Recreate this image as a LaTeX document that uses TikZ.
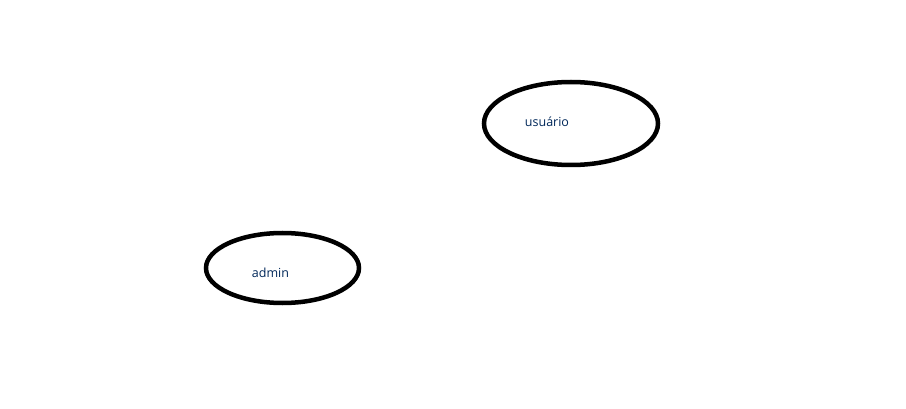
\documentclass[tikz,border=0pt]{standalone}
\usepackage{fontspec}
\setmainfont{Open Sans}
\definecolor{labelblue}{RGB}{0,40,90}
\begin{document}
\begin{tikzpicture}[x=1pt,y=-1pt,
  oval/.style={draw=black,line width=4.5pt},
  lbl/.style={text=labelblue,font=\fontsize{12.5}{14}\selectfont,inner sep=0pt,anchor=base}]
\useasboundingbox (0,0) rectangle (906,409);
\fill[white] (0,0) rectangle (906,409);
\draw[oval] (571,123.5) ellipse [x radius=87,y radius=41.5];
\draw[oval] (282.5,268) ellipse [x radius=76.5,y radius=35];
\node[lbl] (usuario) at (547,126.5) {usuário};
\node[lbl] (admin) at (270.5,277.5) {admin};
\end{tikzpicture}
\end{document}
